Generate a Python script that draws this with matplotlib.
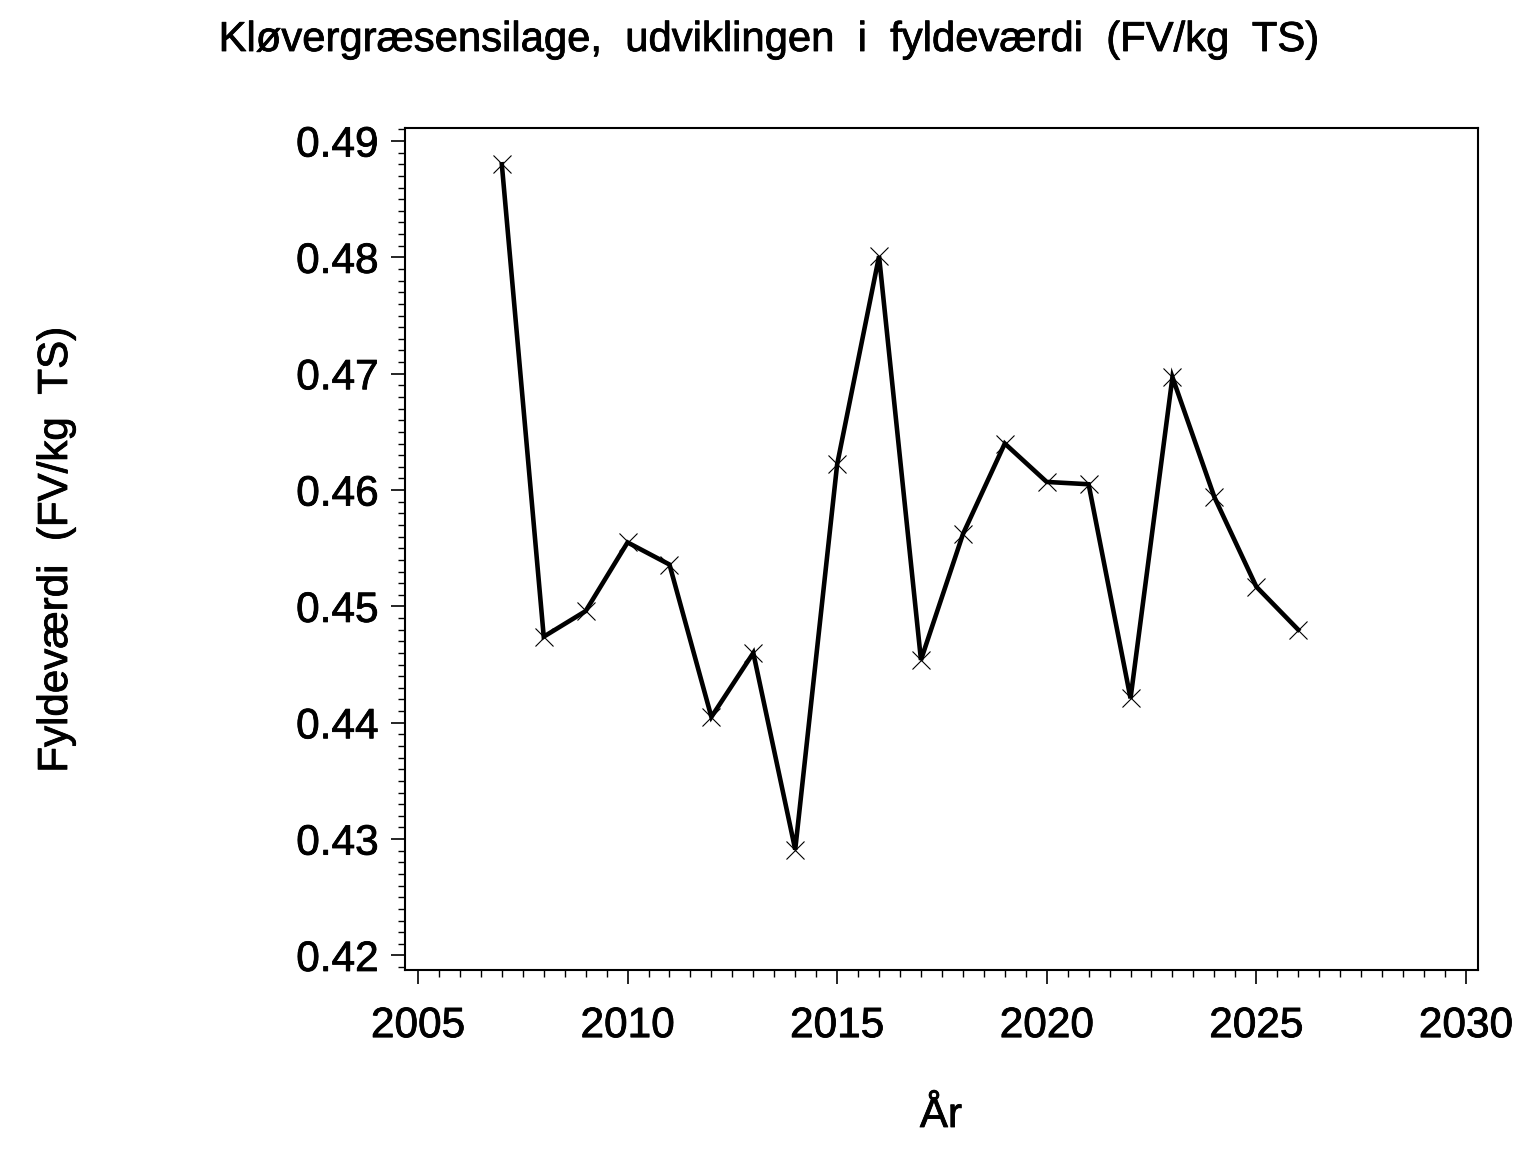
import matplotlib
matplotlib.use("Agg")
import matplotlib.pyplot as plt
import matplotlib.patheffects as pe
from matplotlib.ticker import MultipleLocator, FixedLocator

years = [2007, 2008, 2009, 2010, 2011, 2012, 2013, 2014, 2015, 2016,
         2017, 2018, 2019, 2020, 2021, 2022, 2023, 2024, 2025, 2026]
fyldevaerdi = [0.4880, 0.4474, 0.4496, 0.4555, 0.4536, 0.4405, 0.4460, 0.4291, 0.4622, 0.4801,
               0.4454, 0.4562, 0.4640, 0.4607, 0.4605, 0.4421, 0.4697, 0.4594, 0.4517, 0.4480]
x_ticks = [2005, 2010, 2015, 2020, 2025, 2030]
y_ticks = [0.42, 0.43, 0.44, 0.45, 0.46, 0.47, 0.48, 0.49]

title = "Kløvergræsensilage,  udviklingen  i  fyldeværdi  (FV/kg  TS)"
xlabel = "År"
ylabel = "Fyldeværdi  (FV/kg  TS)"

plt.rcParams['font.family'] = ['Liberation Sans', 'DejaVu Sans']

W, H = 1536, 1152
fig = plt.figure(figsize=(W / 100, H / 100), dpi=100)
L, R, T, B = 405, 1478, 128, 970
ax = fig.add_axes([L / W, 1 - B / H, (R - L) / W, (B - T) / H])

ax.plot(years, fyldevaerdi, color='black', lw=3.3, marker='x', markersize=13,
        markeredgewidth=0.8, markeredgecolor='black', solid_joinstyle='miter')

ax.set_xlim(2004.69, 2030.29)
ax.set_ylim(0.41875, 0.49112)

ax.xaxis.set_major_locator(FixedLocator(x_ticks))
ax.xaxis.set_minor_locator(MultipleLocator(0.5))
ax.yaxis.set_major_locator(FixedLocator(y_ticks))
ax.yaxis.set_minor_locator(MultipleLocator(0.001))
ax.set_xticklabels([str(v) for v in x_ticks])
ax.set_yticklabels([f"{v:.2f}" for v in y_ticks])

for s in ax.spines.values():
    s.set_linewidth(1.5)

ax.tick_params(axis='both', which='major', length=10, width=1.2, direction='out',
               labelsize=30.5, colors='black')
ax.tick_params(axis='both', which='minor', length=5, width=1.0, direction='out')
ax.tick_params(axis='x', which='major', pad=16)
ax.tick_params(axis='y', which='major', pad=9)

bold = [pe.withStroke(linewidth=0.6, foreground='black')]
texts = [
    fig.text(768 / W, 1 - 51 / H, title, ha='center', va='baseline', fontsize=30.1),
    fig.text(941 / W, 1 - 1127 / H, xlabel, ha='center', va='baseline', fontsize=30.3),
    fig.text(56 / W, 1 - 549 / H, ylabel, ha='center', va='center', rotation=90, fontsize=30.3),
]
texts += list(ax.get_xticklabels()) + list(ax.get_yticklabels())
for t in texts:
    t.set_path_effects(bold)

fig.savefig("out.png", dpi=100, facecolor='white')
